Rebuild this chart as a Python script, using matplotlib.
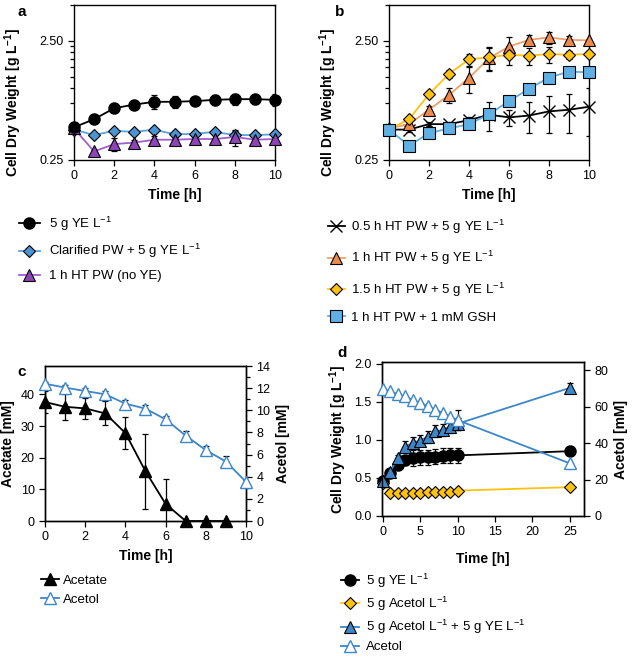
import matplotlib
matplotlib.use("Agg")
import matplotlib.pyplot as plt
import numpy as np

plt.rcParams['font.family'] = ['Liberation Sans', 'DejaVu Sans']
plt.rcParams['mathtext.default'] = 'regular'
plt.rcParams['font.size'] = 9
plt.rcParams['axes.linewidth'] = 1.0

# ---- datos panel a ----
t_a = np.arange(0, 11)
ye5_a = [0.47, 0.55, 0.68, 0.73, 0.77, 0.77, 0.78, 0.80, 0.81, 0.81, 0.80]
ye5_a_err = [0, 0, 0.03, 0.03, 0.10, 0.09, 0.06, 0.08, 0.08, 0.07, 0.09]
clar_a = [0.45, 0.405, 0.44, 0.43, 0.45, 0.41, 0.415, 0.43, 0.405, 0.405, 0.41]
clar_a_err = [0, 0, 0.01, 0.01, 0.01, 0.03, 0.01, 0.01, 0.03, 0.01, 0.01]
ht_a = [0.46, 0.295, 0.34, 0.35, 0.37, 0.37, 0.375, 0.375, 0.39, 0.37, 0.375]
ht_a_err = [0, 0.01, 0.04, 0.02, 0.03, 0.03, 0.02, 0.03, 0.06, 0.03, 0.02]

# ---- datos panel b ----
t_b = np.arange(0, 11)
ht05 = [0.45, 0.45, 0.50, 0.50, 0.54, 0.60, 0.57, 0.59, 0.64, 0.66, 0.70]
ht05_err = [0, 0.02, 0.02, 0.02, 0.03, 0.16, 0.09, 0.17, 0.22, 0.24, 0.30]
ht1 = [0.46, 0.50, 0.66, 0.88, 1.22, 1.79, 2.24, 2.55, 2.67, 2.55, 2.52]
ht1_err = [0, 0.02, 0.05, 0.13, 0.30, 0.40, 0.45, 0.25, 0.30, 0.20, 0.05]
ht15 = [0.45, 0.55, 0.89, 1.32, 1.75, 1.82, 1.91, 1.88, 1.94, 1.91, 1.94]
ht15_err = [0, 0.02, 0.05, 0.10, 0.20, 0.40, 0.35, 0.30, 0.30, 0.15, 0.10]
gsh = [0.45, 0.33, 0.42, 0.46, 0.50, 0.605, 0.78, 0.99, 1.23, 1.38, 1.36]
gsh_err = [0, 0.01, 0.01, 0.01, 0.02, 0.03, 0.04, 0.03, 0.05, 0.10, 0.08]

# ---- datos panel c ----
t_c = np.arange(0, 11)
t_acetato = np.arange(0, 10)
acetato = [37.6, 36.1, 35.6, 34.0, 27.8, 15.7, 5.4, 0, 0, 0]
acetato_err = [3.4, 4.2, 3.2, 3.8, 5.0, 11.8, 7.8, 0, 0, 0]
acetol_c = [12.4, 12.05, 11.74, 11.44, 10.6, 10.15, 9.18, 7.71, 6.4, 5.37, 3.54]
acetol_c_err = [0.2, 0.2, 0.3, 0.3, 0.3, 0.3, 0.3, 0.4, 0.4, 0.5, 0.2]

# ---- datos panel d ----
t_d = [0, 1, 2, 3, 4, 5, 6, 7, 8, 9, 10, 25]
ye5_d = [0.46, 0.56, 0.67, 0.73, 0.76, 0.77, 0.77, 0.78, 0.79, 0.795, 0.795, 0.85]
ye5_d_err = [0, 0.02, 0.04, 0.06, 0.10, 0.10, 0.10, 0.10, 0.10, 0.10, 0.10, 0.03]
acetol5 = [0.43, 0.30, 0.30, 0.30, 0.30, 0.305, 0.31, 0.31, 0.31, 0.315, 0.333, 0.378]
acetol5_ye = [0.46, 0.58, 0.76, 0.91, 0.96, 0.99, 1.04, 1.11, 1.13, 1.17, 1.21, 1.68]
acetol5_ye_err = [0, 0.02, 0.04, 0.08, 0.08, 0.07, 0.08, 0.08, 0.08, 0.08, 0.08, 0.06]
acetol_d = [69.6, 68.5, 66.8, 65.6, 63.6, 62.1, 60.3, 58.4, 56.6, 54.4, 52.6, 28.9]
acetol_d_err = [0, 0, 0, 0, 0, 0, 0, 0, 0, 0, 5.5, 0]

# colores
azul = '#4a94d4'
azul_l = '#5ba3dd'
morado = '#8e44b8'
naranja = '#ec8a4c'
amarillo = '#ffc20e'
azul_c = '#5fb0e4'
azul_d = '#3d86c8'

W, H = 638, 658
fig = plt.figure(figsize=(W / 100, H / 100), dpi=100)

def caja(l, t, r, b):
    return fig.add_axes([l / W, 1 - b / H, (r - l) / W, (b - t) / H])

eb = dict(fmt='none', ecolor='k', elinewidth=0.9, capsize=2, capthick=0.9)
ylab_cdw = 'Cell Dry Weight [g L$^{-1}$]'

def estilo(ax):
    ax.tick_params(direction='out', length=4, width=0.9, labelsize=9, top=False, right=False)
    ax.tick_params(which='minor', direction='out', length=3, width=0.9)

def estilo_log(ax):
    ax.set_yscale('log')
    ax.set_ylim(0.25, 5.0)
    ax.set_yticks([0.25, 2.5])
    ax.set_yticklabels(['0.25', '2.50'])
    ax.set_yticks([0.25 * k for k in range(2, 10)] + [5.0], minor=True)
    ax.yaxis.set_minor_formatter(matplotlib.ticker.NullFormatter())
    ax.set_xlim(0, 10)
    ax.set_xticks(range(0, 11, 2))
    ax.set_xlabel('Time [h]', fontweight='bold', fontsize=10)
    ax.set_ylabel(ylab_cdw, fontweight='bold', fontsize=10)
    ax.yaxis.set_label_coords(-0.25, 0.37)
    estilo(ax)

# ---------- a ----------
ax_a = caja(74, 5, 275, 160)
estilo_log(ax_a)
ax_a.errorbar(t_a, ye5_a, ye5_a_err, **eb)
ax_a.errorbar(t_a, clar_a, clar_a_err, **eb)
ax_a.errorbar(t_a, ht_a, ht_a_err, **eb)
h1, = ax_a.plot(t_a, ye5_a, '-o', color='k', ms=8, mec='k', mfc='k', lw=1.3, clip_on=False, zorder=4)
h2, = ax_a.plot(t_a, clar_a, '-D', color=azul_l, ms=6.5, mfc=azul, mec='k', mew=0.8, lw=1.3, clip_on=False, zorder=3)
h3, = ax_a.plot(t_a, ht_a, '-^', color='#a25fcc', ms=8.5, mfc=morado, mec='k', mew=0.8, lw=1.3, clip_on=False, zorder=3)
fig.text(17 / W, 1 - 12 / H, 'a', fontweight='bold', fontsize=11, va='center')
fig.legend([h1, h2, h3], ['5 g YE L$^{-1}$', 'Clarified PW + 5 g YE L$^{-1}$', '1 h HT PW (no YE)'],
           loc='upper left', bbox_to_anchor=(12 / W, 1 - 208 / H), frameon=False, borderpad=0,
           labelspacing=0.72, handlelength=1.6, handletextpad=0.7, fontsize=9.5)

# ---------- b ----------
ax_b = caja(389, 5, 589, 160)
estilo_log(ax_b)
ax_b.errorbar(t_b, ht05, ht05_err, **eb)
ax_b.errorbar(t_b, ht1, ht1_err, **eb)
ax_b.errorbar(t_b, ht15, ht15_err, **eb)
ax_b.errorbar(t_b, gsh, gsh_err, **eb)
g1, = ax_b.plot(t_b, ht05, '-x', color='k', ms=8, mew=1.0, lw=1.3, clip_on=False, zorder=3)
g2, = ax_b.plot(t_b, ht1, '-^', color='#f0a06c', ms=8.5, mfc=naranja, mec='k', mew=0.8, lw=1.3, clip_on=False, zorder=3)
g3, = ax_b.plot(t_b, ht15, '-D', color=amarillo, ms=6.5, mfc=amarillo, mec='k', mew=0.8, lw=1.3, clip_on=False, zorder=4)
g4, = ax_b.plot(t_b, gsh, '-s', color=azul_c, ms=8, mfc=azul_c, mec='k', mew=0.8, lw=1.3, clip_on=False, zorder=4)
fig.text(335 / W, 1 - 12 / H, 'b', fontweight='bold', fontsize=11, va='center')
fig.legend([g1, g2, g3, g4], ['0.5 h HT PW + 5 g YE L$^{-1}$', '1 h HT PW + 5 g YE L$^{-1}$',
                              '1.5 h HT PW + 5 g YE L$^{-1}$', '1 h HT PW + 1 mM GSH'],
           loc='upper left', bbox_to_anchor=(321 / W, 1 - 211 / H), frameon=False, borderpad=0,
           labelspacing=1.0, handlelength=1.3, handletextpad=0.5, fontsize=9.5)

# ---------- c ----------
ax_c = caja(45, 366, 246, 521)
ax_c2 = ax_c.twinx()
ax_c.set_xlim(0, 10)
ax_c.set_ylim(0, 49)
ax_c2.set_ylim(0, 14)
ax_c.set_xticks(range(0, 11, 2))
ax_c.set_yticks(range(0, 41, 10))
ax_c2.set_yticks(range(0, 15, 2))
ax_c2.set_yticks(range(1, 14, 2), minor=True)
ax_c2.yaxis.set_minor_formatter(matplotlib.ticker.NullFormatter())
estilo(ax_c)
ax_c2.tick_params(direction='out', length=4, width=0.9, labelsize=9)
ax_c2.tick_params(which='minor', direction='out', length=3, width=0.9)
ax_c.errorbar(t_acetato, acetato, acetato_err, **eb)
ax_c2.errorbar(t_c, acetol_c, acetol_c_err, **eb)
c1, = ax_c.plot(t_acetato, acetato, '-^', color='k', ms=8.5, mfc='k', mec='k', lw=1.3, clip_on=False, zorder=4)
c2, = ax_c2.plot(t_c, acetol_c, '-^', color=azul_d, ms=9, mfc='white', mec=azul_d, mew=1.0, lw=1.3, clip_on=False, zorder=4)
ax_c.set_xlabel('Time [h]', fontweight='bold', fontsize=10)
ax_c.set_ylabel('Acetate [mM]', fontweight='bold', fontsize=10)
ax_c2.set_ylabel('Acetol [mM]', fontweight='bold', fontsize=10)
fig.text(17 / W, 1 - 372 / H, 'c', fontweight='bold', fontsize=11, va='center')
fig.legend([c1, c2], ['Acetate', 'Acetol'],
           loc='upper left', bbox_to_anchor=(34 / W, 1 - 568 / H), frameon=False, borderpad=0,
           labelspacing=0.5, handlelength=1.4, handletextpad=0.3, fontsize=9.5)

# ---------- d ----------
ax_d = caja(382, 362, 584, 516)
ax_d2 = ax_d.twinx()
ax_d.set_xlim(-0.1, 26.9)
ax_d.set_ylim(0, 2.02)
ax_d2.set_ylim(0, 84.5)
ax_d.set_xticks(range(0, 26, 5))
ax_d.set_yticks([0, 0.5, 1.0, 1.5, 2.0])
ax_d.set_yticklabels(['0.0', '0.5', '1.0', '1.5', '2.0'])
ax_d2.set_yticks(range(0, 81, 20))
estilo(ax_d)
ax_d2.tick_params(direction='out', length=4, width=0.9, labelsize=9)
ax_d.errorbar(t_d, ye5_d, ye5_d_err, **eb)
ax_d.errorbar(t_d, acetol5_ye, acetol5_ye_err, **eb)
ax_d2.errorbar(t_d, acetol_d, acetol_d_err, **eb)
d1, = ax_d.plot(t_d, ye5_d, '-o', color='k', ms=8, mfc='k', mec='k', lw=1.3, clip_on=False, zorder=4)
d2, = ax_d.plot(t_d, acetol5, '-D', color=amarillo, ms=6.5, mfc=amarillo, mec='k', mew=0.8, lw=1.3, clip_on=False, zorder=4)
d3, = ax_d.plot(t_d, acetol5_ye, '-^', color=azul_d, ms=8.5, mfc=azul_d, mec='k', mew=0.8, lw=1.3, clip_on=False, zorder=4)
d4, = ax_d2.plot(t_d, acetol_d, '-^', color=azul_d, ms=9, mfc='white', mec=azul_d, mew=1.0, lw=1.3, clip_on=False, zorder=4)
ax_d.set_xlabel('Time [h]', fontweight='bold', fontsize=10, labelpad=10)
ax_d.set_ylabel(ylab_cdw, fontweight='bold', fontsize=10)
ax_d2.set_ylabel('Acetol [mM]', fontweight='bold', fontsize=10)
fig.text(337 / W, 1 - 353 / H, 'd', fontweight='bold', fontsize=11, va='center')
fig.legend([d1, d2, d3, d4], ['5 g YE L$^{-1}$', '5 g Acetol L$^{-1}$',
                              '5 g Acetol L$^{-1}$ + 5 g YE L$^{-1}$', 'Acetol'],
           loc='upper left', bbox_to_anchor=(334 / W, 1 - 565 / H), frameon=False, borderpad=0,
           labelspacing=0.38, handlelength=1.4, handletextpad=0.5, fontsize=9.5)

fig.savefig('out.png', dpi=100)
